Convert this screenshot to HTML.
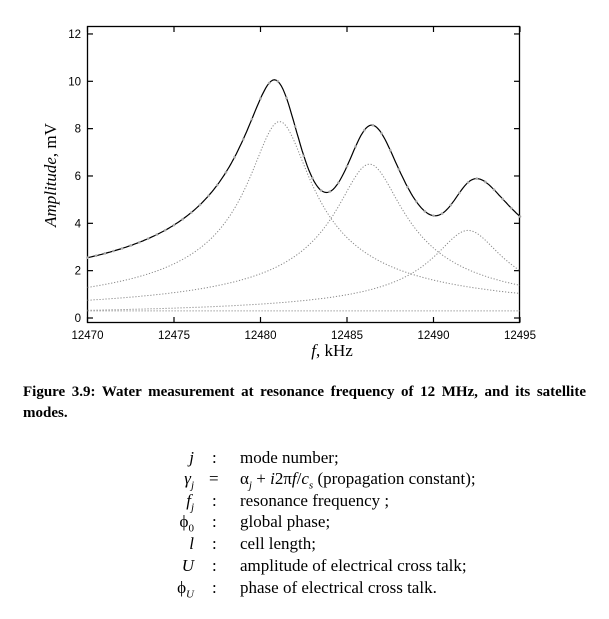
<!DOCTYPE html>
<html><head><meta charset="utf-8"><style>
body{margin:0;background:#fff;width:609px;height:619px;overflow:hidden;position:relative}
.cap{position:absolute;left:23px;width:563px;top:382px;font:bold 15px/21px "Liberation Serif",serif;text-align:justify;text-align-last:left;color:#000}
.t{position:absolute;font:17px/20px "Liberation Serif",serif;color:#000;white-space:nowrap}
.s{text-align:right;width:60px;left:134px;font-style:italic}
sub{line-height:0}
</style></head><body>
<svg id="g" width="609" height="370" style="position:absolute;left:0;top:0" font-family="Liberation Sans, sans-serif" font-size="11.5">
<rect x="87.5" y="26.5" width="432" height="296" fill="none" stroke="#000" stroke-width="1.3"/>
<g id="ax" stroke="#000" stroke-width="1.2"></g>
<g id="lab"></g>
<text x="332" y="356" font-family="Liberation Serif, serif" font-size="17" text-anchor="middle"><tspan font-style="italic">f</tspan>, kHz</text>
<text transform="translate(56,175) rotate(-90)" font-family="Liberation Serif, serif" font-size="17" text-anchor="middle"><tspan font-style="italic">Amplitude</tspan>, mV</text>
<g id="cv"></g>
</svg>
<div class="cap">Figure 3.9: Water measurement at resonance frequency of 12 MHz, and its satellite modes.</div>
<div class="t s" style="top:448px">j</div><div class="t" style="left:212px;top:448px">:</div><div class="t" style="left:240px;top:448px">mode number;</div>
<div class="t s" style="top:469px">γ<sub style="font-size:11px">j</sub></div><div class="t" style="left:209px;top:469px">=</div><div class="t" style="left:240px;top:469px">α<sub style="font-size:11px"><i>j</i></sub> + <i>i</i>2π<i>f</i>/<i>c<sub style="font-size:11px">s</sub></i> (propagation constant);</div>
<div class="t s" style="top:491px">f<sub style="font-size:11px">j</sub></div><div class="t" style="left:212px;top:491px">:</div><div class="t" style="left:240px;top:491px">resonance frequency ;</div>
<div class="t s" style="top:512px;font-style:normal">ϕ<sub style="font-size:11px">0</sub></div><div class="t" style="left:212px;top:512px">:</div><div class="t" style="left:240px;top:512px">global phase;</div>
<div class="t s" style="top:534px">l</div><div class="t" style="left:212px;top:534px">:</div><div class="t" style="left:240px;top:534px">cell length;</div>
<div class="t s" style="top:556px">U</div><div class="t" style="left:212px;top:556px">:</div><div class="t" style="left:240px;top:556px">amplitude of electrical cross talk;</div>
<div class="t s" style="top:578px;font-style:normal">ϕ<sub style="font-size:11px"><i>U</i></sub></div><div class="t" style="left:212px;top:578px">:</div><div class="t" style="left:240px;top:578px">phase of electrical cross talk.</div>
<script>
var X=f=>87.5+(f-12470)*17.3,Y=v=>318-v*23.67,ns="http://www.w3.org/2000/svg";
function el(p,t,a,txt){var e=document.createElementNS(ns,t);for(var k in a)e.setAttribute(k,a[k]);if(txt!=null)e.textContent=txt;document.getElementById(p).appendChild(e);}
for(var f=12470;f<=12495;f+=5){var x=X(f);el("ax","line",{x1:x,y1:322.5,x2:x,y2:317});el("ax","line",{x1:x,y1:26.5,x2:x,y2:32});el("lab","text",{x:x,y:339,"text-anchor":"middle"},f);}
for(var v=0;v<=12;v+=2){var y=Y(v);el("ax","line",{x1:87.5,y1:y,x2:93,y2:y});el("ax","line",{x1:519.5,y1:y,x2:514,y2:y});el("lab","text",{x:81,y:y+4,"text-anchor":"end"},v);}
var M=[[8.3,12481.1,1.75],[6.5,12486.3,1.89],[3.7,12492,1.93]];
function mode(m,f){var x=(f-m[1])/m[2],d=1+x*x;return [m[0]/d,-m[0]*x/d];}
function path(fn){var s="";for(var f=12470;f<=12495.001;f+=0.1){s+=(s?"L":"M")+X(f).toFixed(1)+","+Y(fn(f)).toFixed(1);}return s;}
var ds="stroke-dasharray:1.2 1.8";
M.forEach(m=>el("cv","path",{d:path(f=>{var c=mode(m,f);return Math.hypot(c[0],c[1]);}),fill:"none",stroke:"#888",style:ds}));
el("cv","path",{d:path(f=>0.3),fill:"none",stroke:"#888",style:ds});
function tot(f){var r=0.3,i=0;M.forEach(m=>{var c=mode(m,f);r+=c[0];i+=c[1];});var a=Math.hypot(r,i);return a*1.01+0.1-0.012*(f-12470);}
el("cv","path",{d:path(tot),fill:"none",stroke:"#000","stroke-width":1.2});
for(var f=12470;f<=12495;f+=0.5){el("cv","circle",{cx:X(f),cy:Y(tot(f)),r:1.3,fill:"#aaa"});}
</script>
</body></html>
